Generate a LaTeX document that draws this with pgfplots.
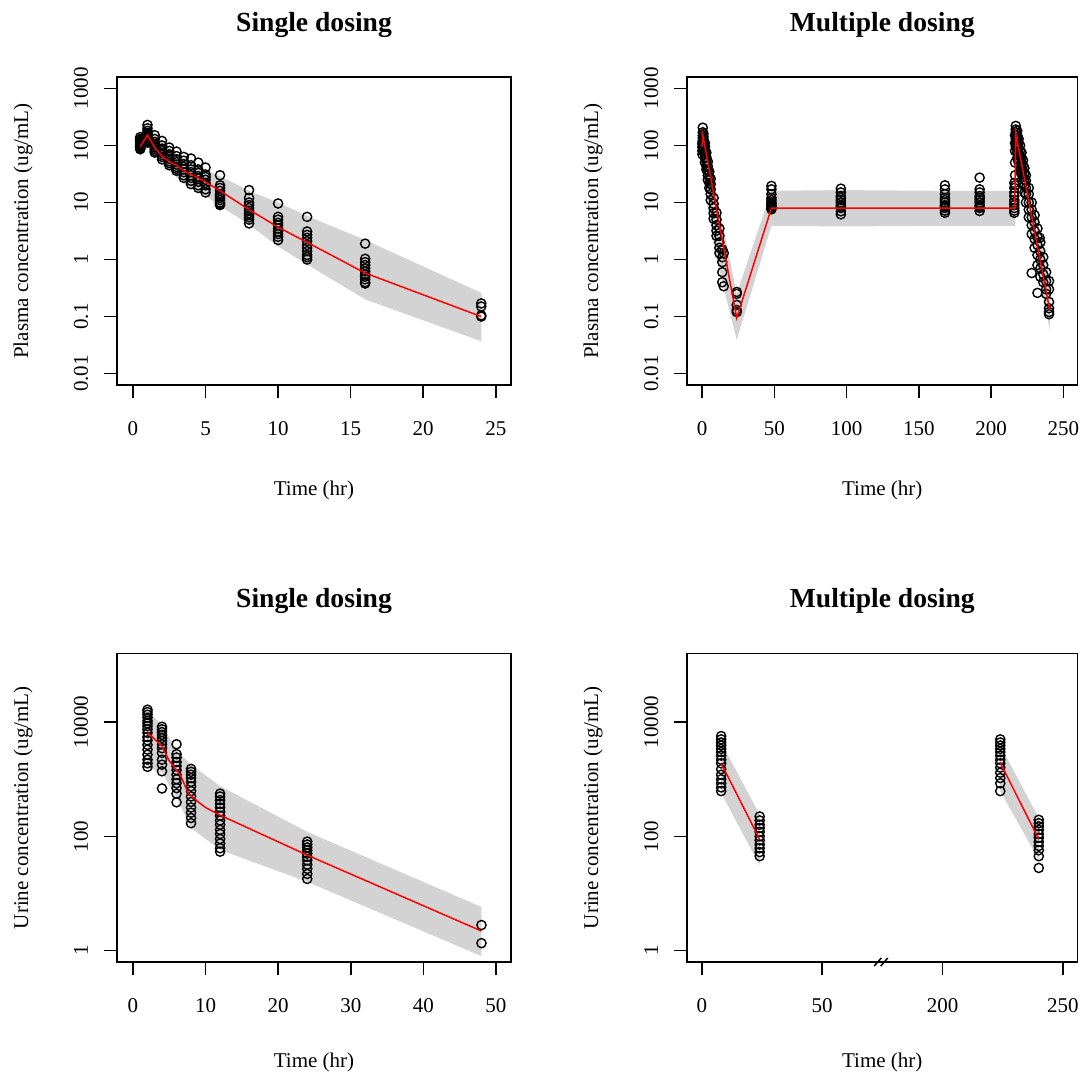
\documentclass[border=0pt]{standalone}
\usepackage{pgfplots}
\pgfplotsset{compat=1.18}
\usepackage{fontspec}
\setmainfont{Liberation Serif}
\definecolor{bandgrey}{RGB}{211,211,211}
\pgfplotsset{
 vpc/.style={
   scale only axis,
   axis line style={line width=0.75pt},
   every tick/.style={line width=0.75pt, black},
   tick align=outside,
   major tick length=6.5pt,
   tick pos=left,
   yminorticks=false, xminorticks=false,
   clip mode=individual,
   ticklabel style={font=\fontsize{10.5}{12}\selectfont},
   xticklabel style={anchor=base},
   xticklabel shift=18.5pt,
   yticklabel style={rotate=90, anchor=base},
   yticklabel shift=8pt,
   label style={font=\fontsize{10.5}{12}\selectfont},
   title style={font=\bfseries\fontsize{13.8}{16}\selectfont, at={(axis description cs:0.5,1)}, anchor=base, yshift=17pt},
   /pgf/number format/assume math mode=true,
 },
 obs/.style={only marks, mark=o, mark size=2.3pt, mark options={line width=0.7pt, black, fill=none}, black},
 med/.style={red, line width=0.75pt, mark=none},
 band/.style={fill=bandgrey, draw=none, mark=none},
}
\begin{document}
\begin{tikzpicture}
\path[use as bounding box] (0,0) rectangle (543pt,-540.5pt);

% ---------------- Panel 1: single dosing plasma ----------------
\begin{axis}[vpc, at={(58.5pt,-192.5pt)}, width=197pt, height=154pt,
 xmin=-1.1, xmax=26.05, ymode=log, ymin=0.00631, ymax=1585,
 xtick={0,5,10,15,20,25}, xticklabels={0,5,10,15,20,25},
 ytick={0.01,0.1,1,10,100,1000}, yticklabels={0.01,0.1,1,10,100,1000},
 title={Single dosing}, xlabel={Time (hr)}, ylabel={Plasma concentration (ug/mL)},
 xlabel style={at={(axis description cs:0.5,-0.341)}, anchor=center},
 ylabel style={at={(axis description cs:-0.2386,0.5)}, anchor=center}]
\addplot[band] coordinates {(0.5,140) (1,210) (1.5,160) (2,120) (2.5,90) (3,72) (3.5,60) (4,50) (4.5,43) (5,37) (6,29) (8,16) (10,10) (12,5.8) (16,2.2) (24,0.26)
 (24,0.037) (16,0.2) (12,0.82) (10,1.7) (8,4.1) (6,8.7) (5,13) (4.5,15) (4,18) (3.5,22) (3,28) (2.5,36) (2,47) (1.5,68) (1,100) (0.5,65)} -- cycle;
\addplot[obs] coordinates {
 (0.5,140) (0.5,130) (0.5,122) (0.5,115) (0.5,110) (0.5,105) (0.5,100) (0.5,96) (0.5,92) (0.5,88) (0.5,86) (0.5,118) (0.5,128)
 (1,229) (1,200) (1,180) (1,165) (1,155) (1,148) (1,140) (1,132) (1,125) (1,118) (1,112)
 (1.5,151) (1.5,130) (1.5,115) (1.5,105) (1.5,98) (1.5,92) (1.5,86) (1.5,80) (1.5,75)
 (2,120) (2,100) (2,88) (2,80) (2,74) (2,68) (2,63) (2,57)
 (2.5,92) (2.5,80) (2.5,70) (2.5,63) (2.5,58) (2.5,53) (2.5,49) (2.5,45)
 (3,78) (3,65) (3,57) (3,51) (3,46) (3,42) (3,39) (3,36)
 (3.5,63) (3.5,54) (3.5,47) (3.5,42) (3.5,38) (3.5,34) (3.5,30) (3.5,27)
 (4,59) (4,45) (4,38) (4,34) (4,30) (4,27) (4,24) (4,21)
 (4.5,50) (4.5,38) (4.5,33) (4.5,29) (4.5,26) (4.5,23) (4.5,20) (4.5,18)
 (5,41) (5,31) (5,28) (5,25) (5,22) (5,20) (5,17) (5,15)
 (6,30) (6,20) (6,18) (6,16) (6,14) (6,13) (6,12) (6,11) (6,10) (6,9.5) (6,9)
 (8,16.5) (8,12) (8,10) (8,9) (8,8) (8,7.2) (8,6.5) (8,6) (8,5.5) (8,5) (8,4.3)
 (10,9.6) (10,5.6) (10,5) (10,4.4) (10,4) (10,3.5) (10,3.1) (10,2.8) (10,2.5) (10,2.2)
 (12,5.6) (12,3.1) (12,2.7) (12,2.4) (12,2.1) (12,1.8) (12,1.6) (12,1.4) (12,1.2) (12,1.1) (12,1.0)
 (16,1.9) (16,1.03) (16,0.9) (16,0.8) (16,0.7) (16,0.62) (16,0.55) (16,0.5) (16,0.45) (16,0.4) (16,0.38)
 (24,0.17) (24,0.15) (24,0.105) (24,0.1)};
\addplot[med] coordinates {(0.5,95) (1,152) (1.5,92) (2,65) (2.5,52) (3,45) (3.5,36) (4,31) (4.5,27) (5,23) (6,16) (8,7.5) (10,3.7) (12,2.0) (16,0.58) (24,0.1)};
\end{axis}

% ---------------- Panel 2: multiple dosing plasma ----------------
\begin{axis}[vpc, at={(343.5pt,-192.5pt)}, width=195.25pt, height=154pt,
 xmin=-10.4, xmax=259.7, ymode=log, ymin=0.00631, ymax=1585,
 xtick={0,50,100,150,200,250}, xticklabels={0,50,100,150,200,250},
 ytick={0.01,0.1,1,10,100,1000}, yticklabels={0.01,0.1,1,10,100,1000},
 title={Multiple dosing}, xlabel={Time (hr)}, ylabel={Plasma concentration (ug/mL)},
 xlabel style={at={(axis description cs:0.5,-0.341)}, anchor=center},
 ylabel style={at={(axis description cs:-0.2407,0.5)}, anchor=center}]
\addplot[band] coordinates {(0,150) (0.5,260) (12,8) (24,0.25) (48,16) (96,16.5) (168,16) (216.6,16) (217,260) (228,15) (240.5,0.45)
 (240.5,0.059) (228,2.2) (217,70) (216.6,3.9) (168,3.9) (96,3.8) (48,3.9) (24,0.039) (9,1.3) (4,8) (0.5,60) (0,40)} -- cycle;
\addplot[obs] coordinates {
 (0.25,110) (0.25,95) (0.25,80) (0.25,70)
 (0.5,205) (0.5,170) (0.5,150) (0.5,135) (0.5,120) (0.5,105) (0.5,90)
 (1,160) (1,140) (1,125) (1,110) (1,95) (1,80)
 (2,110) (2,95) (2,80) (2,70) (2,60) (2,50)
 (3,75) (3,62) (3,52) (3,44) (3,38)
 (4,52) (4,43) (4,36) (4,30) (4,25)
 (5,35) (5,28) (5,22) (5,18)
 (6,26) (6,21) (6,17) (6,14) (6,11)
 (8,12) (8,9.5) (8,8) (8,6.5) (8,5.2)
 (10,6.6) (10,5) (10,4) (10,3.2) (10,2.6)
 (12,3.5) (12,2.6) (12,2) (12,1.6) (12,1.3)
 (14,1.5) (14,1.1) (14,0.9) (14,0.6) (14,0.4) (15,1.3) (15,0.34)
 (24,0.27) (24,0.25) (24,0.16) (24,0.13) (24,0.12)
 (48,19.5) (48,17) (48,14) (48,12) (48,11) (48,10) (48,9.5) (48,9) (48,8.5) (48,8) (48,7.6)
 (96,17.5) (96,15) (96,13) (96,12) (96,11) (96,10) (96,9) (96,8.5) (96,8) (96,7) (96,6.2)
 (168,20) (168,17) (168,14) (168,12) (168,11) (168,10) (168,9) (168,8.5) (168,8) (168,7.2) (168,6.6)
 (192,27.3) (192,17) (192,15) (192,13) (192,12) (192,11) (192,10) (192,9) (192,8.5) (192,8) (192,7.1)
 (216,22) (216,18) (216,15) (216,13) (216,11) (216,10) (216,9) (216,8) (216,7.2) (216,6.6)
 (216.5,150) (216.5,110) (216.5,80) (216.5,50) (216.5,30) (216.5,20)
 (217,220) (217,190) (217,170) (217,150) (217,130) (217,110) (217,95)
 (218,180) (218,150) (218,130) (218,110) (218,90) (218,75) (218,60)
 (219,130) (219,110) (219,90) (219,75) (219,60) (219,50)
 (220,100) (220,80) (220,65) (220,55) (220,45) (220,35)
 (221,75) (221,60) (221,48) (221,40) (221,32)
 (222,55) (222,45) (222,36) (222,28) (222,22)
 (223,40) (223,32) (223,25) (223,20) (223,15)
 (224,30) (224,24) (224,18) (224,14) (224,10)
 (226,18) (226,14) (226,10) (226,7.5) (226,5.5)
 (228,10) (228,7.5) (228,5.5) (228,4) (228,2.8) (228,0.58)
 (230,6) (230,4.5) (230,3.2) (230,2.3) (230,1.6)
 (232,3.5) (232,2.5) (232,1.8) (232,1.2) (232,0.8) (232,0.26)
 (233.5,2.4)
 (234,2) (234,1.4) (234,1) (234,0.7) (234,0.5)
 (236,1.1) (236,0.8) (236,0.55) (236,0.4)
 (238,0.6) (238,0.42) (238,0.3) (238,0.25)
 (240,0.42) (240,0.3) (240,0.18) (240,0.14) (240,0.12) (240,0.11)};
\addplot[med] coordinates {(0,95) (0.5,155) (24,0.094) (48,8) (216.3,8) (217,163) (240.5,0.13)};
\end{axis}

% ---------------- Panel 3: single dosing urine ----------------
\begin{axis}[vpc, at={(58.5pt,-481pt)}, width=197pt, height=154.2pt,
 xmin=-2.2, xmax=52.07, ymode=log, ymin=0.631, ymax=158489,
 xtick={0,10,20,30,40,50}, xticklabels={0,10,20,30,40,50},
 ytick={1,100,10000}, yticklabels={1,100,10000},
 title={Single dosing}, xlabel={Time (hr)}, ylabel={Urine concentration (ug/mL)},
 xlabel style={at={(axis description cs:0.5,-0.327)}, anchor=center},
 ylabel style={at={(axis description cs:-0.2386,0.5)}, anchor=center}]
\addplot[band] coordinates {(2,16000) (4,8800) (6,3200) (8,1800) (12,760) (24,120) (48,5.8)
 (48,0.8) (24,16) (12,58) (8,140) (6,480) (4,1300) (2,1600)} -- cycle;
\addplot[obs] coordinates {
 (2,16500) (2,15000) (2,13500) (2,12000) (2,10500) (2,9500) (2,8500) (2,7500) (2,6500) (2,5500) (2,4800) (2,4000) (2,3300) (2,2700) (2,2200) (2,1900) (2,1650)
 (4,8300) (4,7500) (4,6700) (4,6000) (4,5300) (4,4700) (4,4100) (4,3500) (4,2900) (4,2200) (4,1800) (4,1380) (4,690)
 (6,4100) (6,2750) (6,2400) (6,2000) (6,1700) (6,1450) (6,1200) (6,1000) (6,850) (6,700) (6,560) (6,395)
 (8,1520) (8,1350) (8,1200) (8,1050) (8,900) (8,750) (8,620) (8,500) (8,400) (8,320) (8,260) (8,210) (8,170)
 (12,560) (12,500) (12,430) (12,370) (12,320) (12,270) (12,230) (12,190) (12,160) (12,130) (12,110) (12,90) (12,75) (12,62) (12,54)
 (24,81) (24,72) (24,64) (24,57) (24,50) (24,44) (24,38) (24,32) (24,27) (24,22) (24,18)
 (48,2.8) (48,1.35)};
\addplot[med] coordinates {(2,6600) (4,3800) (5,2100) (6.5,1200) (7.6,580) (8,515) (9,400) (10,320) (12,235) (24,47) (48,2.2)};
\end{axis}

% ---------------- Panel 4: multiple dosing urine (broken x axis) ----------------
\begin{axis}[vpc, at={(343.5pt,-481pt)}, width=195.25pt, height=154.2pt,
 xmin=-6.2, xmax=156.1, ymode=log, ymin=0.631, ymax=158489,
 xtick={0,50,100,150}, xticklabels={0,50,200,250},
 ytick={1,100,10000}, yticklabels={1,100,10000},
 title={Multiple dosing}, xlabel={Time (hr)}, ylabel={Urine concentration (ug/mL)},
 xlabel style={at={(axis description cs:0.5,-0.327)}, anchor=center},
 ylabel style={at={(axis description cs:-0.2407,0.5)}, anchor=center}]
% x values after 175 hr are plotted shifted by -100 (axis break at 75/175)
\addplot[band] coordinates {(8,4400) (24,240) (24,31) (8,575)} -- cycle;
\addplot[band] coordinates {(124,3900) (140,210) (140,39) (124,620)} -- cycle;
\addplot[obs] coordinates {
 (8,5700) (8,5000) (8,4400) (8,3900) (8,3400) (8,3000) (8,2600) (8,2200) (8,1900) (8,1500) (8,1200) (8,1000) (8,850) (8,720) (8,620)
 (24,223) (24,190) (24,160) (24,140) (24,120) (24,100) (24,85) (24,72) (24,62) (24,53) (24,45)
 (124,5000) (124,4400) (124,3900) (124,3400) (124,3000) (124,2600) (124,2200) (124,1900) (124,1600) (124,1300) (124,1050) (124,850) (124,620)
 (140,195) (140,170) (140,150) (140,130) (140,110) (140,95) (140,80) (140,68) (140,57) (140,45) (140,28)};
\addplot[med] coordinates {(8,1900) (24,89)};
\addplot[med] coordinates {(124,1950) (140,89)};
\draw[line width=0.75pt] ([xshift=-4pt,yshift=-2pt]axis description cs:0.5,0) -- ([xshift=-0.5pt,yshift=2pt]axis description cs:0.5,0);
\draw[line width=0.75pt] ([xshift=-0.75pt,yshift=-2pt]axis description cs:0.5,0) -- ([xshift=2.75pt,yshift=2pt]axis description cs:0.5,0);
\end{axis}
\end{tikzpicture}
\end{document}
